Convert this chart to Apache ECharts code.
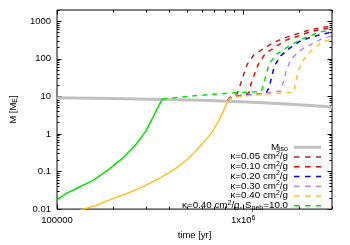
<!DOCTYPE html>
<html><head><meta charset="utf-8">
<script src="https://cdn.jsdelivr.net/npm/echarts@6/dist/echarts.min.js"></script>
<style>html,body{margin:0;padding:0;background:#fff}#c{width:350px;height:245px}</style>
</head><body><div id="c"></div>
<script>
// ---- data (time [yr], mass [M_E]) ----
const isoT = [1e5, 2e5, 3.7e5, 6e5, 8.3e5, 1.2e6, 1.7e6, 2.3e6, 3e6];
const isoM = [9.15, 8.75, 8.3, 7.85, 7.45, 6.9, 6.3, 5.75, 5.25];

const coreT = [1.2e5, 1.39e5, 1.63e5, 1.92e5, 2.36e5, 2.89e5, 3.54e5, 4.33e5, 5.1e5, 6.0e5, 6.77e5, 7.35e5, 7.81e5, 8.25e5];
const coreM = [0.0078, 0.01, 0.0127, 0.0179, 0.0257, 0.0397, 0.0654, 0.119, 0.226, 0.533, 1.07, 2.17, 3.94, 7.8];

const greenCoreT = [1e5, 1.13e5, 1.28e5, 1.57e5, 1.92e5, 2.26e5, 2.66e5, 3.0e5, 3.26e5, 3.46e5, 3.68e5];
const greenCoreM = [0.0179, 0.0266, 0.0359, 0.0593, 0.119, 0.23, 0.533, 1.19, 2.64, 4.8, 8.6];

const k005T = [8.25e5, 8.6e5, 9.0e5, 9.3e5, 9.6e5, 1.0e6, 1.05e6, 1.14e6, 1.3e6, 1.47e6, 1.69e6, 1.96e6, 2.24e6, 2.6e6, 3e6];
const k005M = [7.8, 9.8, 10.8, 12, 19, 35, 71, 127, 194, 279, 367, 470, 575, 670, 760];

const k010T = [8.25e5, 8.6e5, 9.5e5, 1.05e6, 1.08e6, 1.1e6, 1.15e6, 1.21e6, 1.31e6, 1.5e6, 1.71e6, 1.99e6, 2.27e6, 2.64e6, 3e6];
const k010M = [7.8, 9.5, 10.5, 11.5, 13, 21, 39, 75, 135, 214, 320, 410, 520, 610, 670];

const k020T = [8.25e5, 8.7e5, 1.0e6, 1.2e6, 1.33e6, 1.38e6, 1.42e6, 1.47e6, 1.59e6, 1.78e6, 2.0e6, 2.29e6, 2.64e6, 3e6];
const k020M = [7.8, 9.5, 10.5, 11.5, 12.5, 17.7, 32, 64, 120, 194, 289, 370, 450, 510];

const k030T = [8.25e5, 8.7e5, 1.2e6, 1.59e6, 1.65e6, 1.71e6, 1.79e6, 1.85e6, 2.05e6, 2.34e6, 2.67e6, 3e6];
const k030M = [7.8, 9.5, 11.5, 14, 26, 53, 85, 110, 176, 250, 350, 410];

const k040T = [8.25e5, 8.7e5, 1.3e6, 1.87e6, 1.9e6, 1.95e6, 2.0e6, 2.1e6, 2.2e6, 2.35e6, 2.64e6, 3e6];
const k040M = [7.8, 9.5, 11.5, 13, 20, 35, 55, 92, 125, 175, 275, 340];

const speb10T = [3.68e5, 5e5, 7e5, 1e6, 1.25e6, 1.29e6, 1.32e6, 1.38e6, 1.52e6, 1.72e6, 1.99e6, 2.25e6, 2.59e6, 3e6];
const speb10M = [8.6, 10, 11.5, 12.8, 13.5, 21, 35, 75, 135, 202, 310, 400, 520, 590];

// ---- axes ----
const xMin = 1e5, xMax = 3e6, yMin = 0.01, yMax = 2000;
const xMajor = [1e5, 1e6];
const xTickBase = ['100000', '1x10'];
const xTickExp = ['', '6'];
const yMajor = [0.01, 0.1, 1, 10, 100, 1000];
const yTickText = ['0.01', '0.1', '1', '10', '100', '1000'];

const xMinor = [];
[1e5, 1e6].forEach(d => { for (let k = 2; k <= 9; k++) if (d * k <= xMax * 1.0001) xMinor.push(d * k); });
const yMinor = [];
yMajor.forEach(d => { for (let k = 2; k <= 9; k++) if (d * k <= yMax * 1.0001) yMinor.push(+(d * k).toPrecision(6)); });

const FONT = 'Liberation Sans';
const near = (a, b) => Math.abs(a - b) / b < 1e-6;

function xAxisDef(pos, ticks, len, labels) {
  return {
    type: 'log', logBase: 10, min: xMin, max: xMax, position: pos, gridIndex: 0,
    axisLine: { show: false, onZero: false },
    splitLine: { show: false }, minorTick: { show: false },
    axisTick: { show: true, inside: true, length: len, customValues: ticks, lineStyle: { color: '#000', width: 1 } },
    axisLabel: labels ? {
      show: true, customValues: xMajor, margin: 5, color: '#000', fontFamily: FONT, fontSize: 9.5,
      formatter: v => { const i = xMajor.findIndex(t => near(v, t)); if (i < 0) return ''; return xTickExp[i] ? '{a|' + xTickBase[i] + '}{p|' + xTickExp[i] + '}' : '{a|' + xTickBase[i] + '}'; },
      rich: { a: { fontSize: 9.5, fontFamily: FONT, color: '#000', lineHeight: 12 }, p: { fontSize: 7, fontFamily: FONT, color: '#000', verticalAlign: 'top', lineHeight: 8 } }
    } : { show: false },
    name: labels ? 'time [yr]' : '', nameLocation: 'middle', nameGap: 19,
    nameTextStyle: { color: '#000', fontFamily: FONT, fontSize: 9.5 }
  };
}
function yAxisDef(pos, ticks, len, labels) {
  return {
    type: 'log', logBase: 10, min: yMin, max: yMax, position: pos, gridIndex: 0,
    axisLine: { show: false, onZero: false },
    splitLine: { show: false }, minorTick: { show: false },
    axisTick: { show: true, inside: true, length: len, customValues: ticks, lineStyle: { color: '#000', width: 1 } },
    axisLabel: labels ? {
      show: true, customValues: yMajor, margin: 6, color: '#000', fontFamily: FONT, fontSize: 9.5,
      formatter: v => { const i = yMajor.findIndex(t => near(v, t)); return i < 0 ? '' : yTickText[i]; }
    } : { show: false },
    name: labels ? '{a|M [M}{s|E}{a|]}' : '', nameLocation: 'middle', nameGap: 32,
    nameTextStyle: {
      color: '#000', fontFamily: FONT, fontSize: 9.5,
      rich: { a: { fontSize: 9.5, fontFamily: FONT, color: '#000', lineHeight: 12 }, s: { fontSize: 7, fontFamily: FONT, color: '#000', verticalAlign: 'bottom', lineHeight: 8 } }
    }
  };
}

const zip = (T, M) => T.map((t, i) => [t, M[i]]);
function lineSeries(name, T, M, color, width, dashed) {
  return {
    type: 'line', name, data: zip(T, M), xAxisIndex: 0, yAxisIndex: 0,
    showSymbol: false, symbol: 'none', smooth: false, clip: true, silent: true,
    lineStyle: { color, width, type: dashed ? [5, 5] : 'solid', cap: 'butt', join: 'round' }
  };
}

const C = { iso: '#c0c0c0', k005: '#a52a2a', k010: '#ff0000', k020: '#0000ff', k030: '#c080ff', k040: '#ffc020', speb: '#00e600' };

// ---- legend (gnuplot-style key, right-aligned text, sample on the right) ----
const legendRows = [
  { text: '{a|M}{s|iso}', color: C.iso, width: 3, dashed: false },
  { text: '{a|κ=0.05 cm}{p|2}{a|/g}', color: C.k005, width: 1.5, dashed: true },
  { text: '{a|κ=0.10 cm}{p|2}{a|/g}', color: C.k010, width: 1.5, dashed: true },
  { text: '{a|κ=0.20 cm}{p|2}{a|/g}', color: C.k020, width: 1.5, dashed: true },
  { text: '{a|κ=0.30 cm}{p|2}{a|/g}', color: C.k030, width: 1.5, dashed: true },
  { text: '{a|κ=0.40 cm}{p|2}{a|/g}', color: C.k040, width: 1.5, dashed: true },
  { text: '{a|κ=0.40 cm}{p|2}{a|/g, S}{s|peb}{a|=10.0}', color: C.speb, width: 1.5, dashed: true }
];
const LF = 9.8;
const rich = {
  a: { fontSize: LF, fontFamily: FONT, fill: '#000', lineHeight: 12 },
  p: { fontSize: 7, fontFamily: FONT, fill: '#000', verticalAlign: 'top', lineHeight: 8 },
  s: { fontSize: 7, fontFamily: FONT, fill: '#000', verticalAlign: 'bottom', lineHeight: 8 }
};
const graphic = [];
legendRows.forEach((r, i) => {
  const y = 147.3 + i * 9.75;
  graphic.push({ type: 'text', x: 288, y: y - 0.5, silent: true,
    style: { text: r.text, rich, align: 'right', verticalAlign: 'middle', textAlign: 'right', textVerticalAlign: 'middle' } });
  graphic.push({ type: 'line', silent: true, shape: { x1: 294, y1: y, x2: 321, y2: y },
    style: { stroke: r.color, lineWidth: r.width, lineDash: r.dashed ? [5.5, 5.5] : null } });
});

const chart = echarts.init(document.getElementById('c'), null, { renderer: 'canvas' });
chart.setOption({
  animation: false,
  backgroundColor: '#fff',
  grid: { left: 53, right: 18, top: 10, bottom: 32, show: true, borderColor: '#000', borderWidth: 1, backgroundColor: 'transparent', containLabel: false },
  xAxis: [xAxisDef('bottom', xMajor, 4.5, true), xAxisDef('bottom', xMinor, 2.5, false), xAxisDef('top', xMajor, 4.5, false), xAxisDef('top', xMinor, 2.5, false)],
  yAxis: [yAxisDef('left', yMajor, 4.5, true), yAxisDef('left', yMinor, 2.5, false), yAxisDef('right', yMajor, 4.5, false), yAxisDef('right', yMinor, 2.5, false)],
  series: [
    lineSeries('M_iso', isoT, isoM, C.iso, 3, false),
    lineSeries('κ=0.05', k005T, k005M, C.k005, 1.5, true),
    lineSeries('κ=0.10', k010T, k010M, C.k010, 1.5, true),
    lineSeries('κ=0.20', k020T, k020M, C.k020, 1.5, true),
    lineSeries('κ=0.30', k030T, k030M, C.k030, 1.5, true),
    lineSeries('κ=0.40', k040T, k040M, C.k040, 1.5, true),
    lineSeries('core', coreT, coreM, C.k040, 1.5, false),
    lineSeries('core S10', greenCoreT, greenCoreM, C.speb, 1.5, false),
    lineSeries('κ=0.40, S_peb=10', speb10T, speb10M, C.speb, 1.5, true)
  ],
  graphic
});
</script>
</body></html>
